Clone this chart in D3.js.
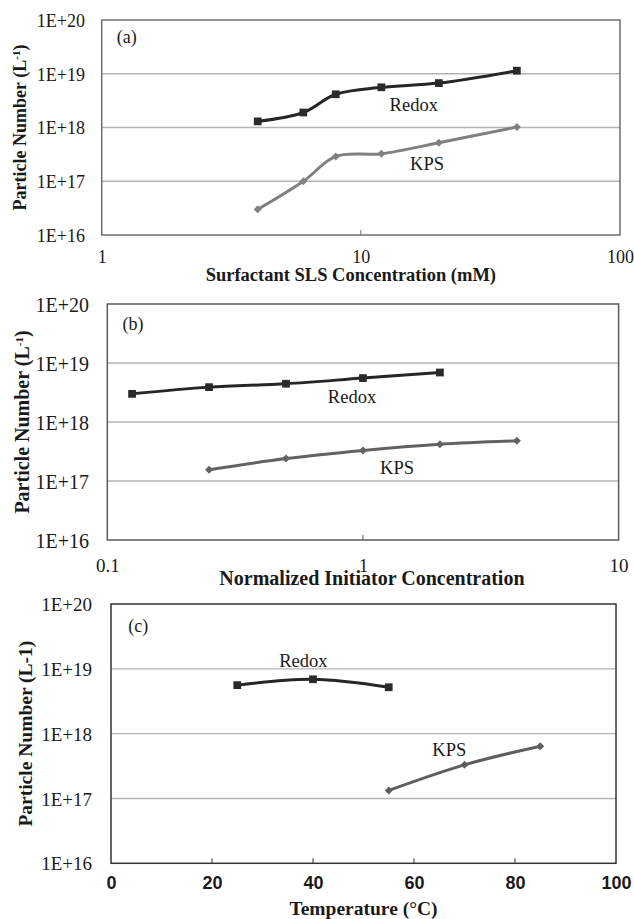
<!DOCTYPE html>
<html>
<head>
<meta charset="utf-8">
<script src="https://cdn.jsdelivr.net/npm/d3@7"></script>
<style>
  body { margin: 0; background: #fff; }
  svg { display: block; }
</style>
</head>
<body>
<div id="chart"></div>
<script>
// panel (a): surfactant concentration (mM)
const slsConc = [4, 6, 8, 12, 20, 40];
const slsRedox = [1.3e18, 1.9e18, 4.15e18, 5.6e18, 6.7e18, 1.14e19];
const slsKps = [3.0e16, 1.0e17, 2.9e17, 3.25e17, 5.2e17, 1.02e18];

// panel (b): normalized initiator concentration
const initRedoxX = [0.125, 0.25, 0.5, 1, 2];
const initRedox = [3.0e18, 3.9e18, 4.45e18, 5.55e18, 6.9e18];
const initKpsX = [0.25, 0.5, 1, 2, 4];
const initKps = [1.55e17, 2.4e17, 3.3e17, 4.2e17, 4.8e17];

// panel (c): temperature (°C)
const tempRedoxX = [25, 40, 55];
const tempRedox = [5.6e18, 6.9e18, 5.2e18];
const tempKpsX = [55, 70, 85];
const tempKps = [1.33e17, 3.3e17, 6.4e17];

const yTicks = [1e16, 1e17, 1e18, 1e19, 1e20];
const yGrid = [1e17, 1e18, 1e19];

const W = 634, H = 919;
const serif = '"Liberation Serif", "DejaVu Serif", serif';
const sans = '"Liberation Sans", "DejaVu Sans", sans-serif';

const svg = d3.select("#chart").append("svg")
    .attr("width", W)
    .attr("height", H);

svg.append("rect").attr("width", W).attr("height", H).attr("fill", "#fff");

const panels = [
  {
    tag: "(a)", tagAt: [1.25, 4.8e19],
    box: { left: 101.7, right: 620, top: 20, bottom: 235 },
    xType: "log", xDomain: [1, 100], xTicks: [1, 10, 100], xInner: [10],
    xFont: serif, xBold: false, xSize: 18,
    xTickY: 257, xTitle: "Surfactant SLS Concentration (mM)", xTitleY: 275, xTitleShift: -10, xTitleSize: 18.5,
    yTickEnd: 85, ySize: 18, yTitleX: 20, yTitleSize: 18, sup: true,
    frame: "#6e6e6e", kpsColor: "#808080",
    redox: { x: slsConc, y: slsRedox }, kps: { x: slsConc, y: slsKps },
    redoxLab: [16, 2.7e18], kpsLab: [18, 2.1e17], labSize: 18.5
  },
  {
    tag: "(b)", tagAt: [0.126, 4.7e19],
    box: { left: 107.3, right: 618.6, top: 304, bottom: 540 },
    xType: "log", xDomain: [0.1, 10], xTicks: [0.1, 1, 10], xInner: [1],
    xFont: serif, xBold: false, xSize: 19,
    xTickY: 565, xTitle: "Normalized Initiator Concentration", xTitleY: 578, xTitleShift: 9, xTitleSize: 20,
    yTickEnd: 89, ySize: 20, yTitleX: 21.7, yTitleSize: 20, sup: true,
    frame: "#5a5a5a", kpsColor: "#626262",
    redox: { x: initRedoxX, y: initRedox }, kps: { x: initKpsX, y: initKps },
    redoxLab: [0.906, 2.7e18], kpsLab: [1.36, 1.68e17], labSize: 18.5
  },
  {
    tag: "(c)", tagAt: [5.4, 4.6e19],
    box: { left: 111, right: 616, top: 604, bottom: 863.3 },
    xType: "linear", xDomain: [0, 100], xTicks: [0, 20, 40, 60, 80, 100], xInner: [20, 40, 60, 80],
    xFont: sans, xBold: true, xSize: 18,
    xTickY: 883, xTitle: "Temperature (°C)", xTitleY: 908, xTitleShift: 0, xTitleSize: 19.5,
    yTickEnd: 92, ySize: 19, yTitleX: 25, yTitleSize: 19.5, sup: false,
    frame: "#333", kpsColor: "#5e5e5e",
    redox: { x: tempRedoxX, y: tempRedox }, kps: { x: tempKpsX, y: tempKps },
    redoxLab: [38.1, 1.33e19], kpsLab: [67, 5.6e17], labSize: 18.5
  }
];

panels.forEach(p => {
  const b = p.box;
  const x = (p.xType === "log" ? d3.scaleLog() : d3.scaleLinear())
      .domain(p.xDomain)
      .range([b.left, b.right]);
  const y = d3.scaleLog()
      .domain([1e16, 1e20])
      .range([b.bottom, b.top]);

  const g = svg.append("g");

  // gridlines
  g.selectAll(".grid")
    .data(yGrid)
    .enter().append("line")
    .attr("x1", b.left).attr("x2", b.right)
    .attr("y1", d => y(d)).attr("y2", d => y(d))
    .attr("stroke", "#b4b4b4")
    .attr("stroke-width", 1.3);

  // frame
  g.append("rect")
    .attr("x", b.left).attr("y", b.top)
    .attr("width", b.right - b.left).attr("height", b.bottom - b.top)
    .attr("fill", "none")
    .attr("stroke", p.frame)
    .attr("stroke-width", 1.5);

  // small inner ticks on the x axis
  g.selectAll(".xt")
    .data(p.xInner)
    .enter().append("line")
    .attr("x1", d => x(d)).attr("x2", d => x(d))
    .attr("y1", b.bottom).attr("y2", b.bottom - 5)
    .attr("stroke", p.frame)
    .attr("stroke-width", 1);

  // y axis
  const yAxis = g.append("g")
    .attr("transform", `translate(${p.yTickEnd},0)`)
    .call(d3.axisLeft(y).tickValues(yTicks).tickSize(0).tickPadding(0)
      .tickFormat(d => "1E+" + Math.round(Math.log10(d))));
  yAxis.select(".domain").remove();
  yAxis.attr("font-family", null).attr("font-size", null);
  yAxis.selectAll("text")
    .attr("dy", "0.35em")
    .attr("font-family", serif)
    .attr("font-size", p.ySize)
    .attr("fill", "#1a1a1a");

  // x axis
  const xAxis = g.append("g")
    .attr("transform", `translate(0,${p.xTickY})`)
    .call(d3.axisBottom(x).tickValues(p.xTicks).tickSize(0).tickPadding(0).tickFormat(d => String(d)));
  xAxis.select(".domain").remove();
  xAxis.attr("font-family", null).attr("font-size", null);
  xAxis.selectAll("text")
    .attr("y", 0)
    .attr("dy", "0.35em")
    .attr("font-family", p.xFont)
    .attr("font-weight", p.xBold ? "bold" : "normal")
    .attr("font-size", p.xSize)
    .attr("fill", "#1a1a1a");

  // x title
  g.append("text")
    .attr("x", (b.left + b.right) / 2 + p.xTitleShift)
    .attr("y", p.xTitleY)
    .attr("dy", "0.35em")
    .attr("text-anchor", "middle")
    .attr("font-family", serif)
    .attr("font-weight", "bold")
    .attr("font-size", p.xTitleSize)
    .attr("fill", "#1a1a1a")
    .text(p.xTitle);

  // y title
  const yt = g.append("text")
    .attr("transform", `translate(${p.yTitleX},${(b.top + b.bottom) / 2}) rotate(-90)`)
    .attr("dy", "0.35em")
    .attr("text-anchor", "middle")
    .attr("font-family", serif)
    .attr("font-weight", "bold")
    .attr("font-size", p.yTitleSize)
    .attr("fill", "#1a1a1a");
  if (p.sup) {
    yt.append("tspan").text("Particle Number (L");
    yt.append("tspan").attr("baseline-shift", "super").attr("font-size", 11).text("-1");
    yt.append("tspan").text(")");
  } else {
    yt.text("Particle Number (L-1)");
  }

  // panel tag
  g.append("text")
    .attr("x", x(p.tagAt[0])).attr("y", y(p.tagAt[1]))
    .attr("dy", "0.35em")
    .attr("text-anchor", "middle")
    .attr("font-family", serif)
    .attr("font-size", 18)
    .attr("fill", "#1a1a1a")
    .text(p.tag);

  const line = d3.line()
    .x(d => x(d[0]))
    .y(d => y(d[1]))
    .curve(d3.curveCatmullRom.alpha(0.5));

  // KPS series
  const kpsPts = p.kps.x.map((v, i) => [v, p.kps.y[i]]);
  g.append("path")
    .datum(kpsPts)
    .attr("d", line)
    .attr("fill", "none")
    .attr("stroke", p.kpsColor)
    .attr("stroke-width", 3);
  g.selectAll(".kps")
    .data(kpsPts)
    .enter().append("path")
    .attr("d", d3.symbol(d3.symbolSquare, 32))
    .attr("transform", d => `translate(${x(d[0])},${y(d[1])}) rotate(45)`)
    .attr("fill", p.kpsColor);

  // Redox series
  const redoxPts = p.redox.x.map((v, i) => [v, p.redox.y[i]]);
  g.append("path")
    .datum(redoxPts)
    .attr("d", line)
    .attr("fill", "none")
    .attr("stroke", "#262626")
    .attr("stroke-width", 3);
  g.selectAll(".redox")
    .data(redoxPts)
    .enter().append("path")
    .attr("d", d3.symbol(d3.symbolSquare, 60))
    .attr("transform", d => `translate(${x(d[0])},${y(d[1])})`)
    .attr("fill", "#2a2a2a");

  // series labels
  [["Redox", p.redoxLab], ["KPS", p.kpsLab]].forEach(([t, at]) => {
    g.append("text")
      .attr("x", x(at[0])).attr("y", y(at[1]))
      .attr("dy", "0.35em")
      .attr("text-anchor", "middle")
      .attr("font-family", serif)
      .attr("font-size", p.labSize)
      .attr("fill", "#1a1a1a")
      .text(t);
  });
});
</script>
</body>
</html>
